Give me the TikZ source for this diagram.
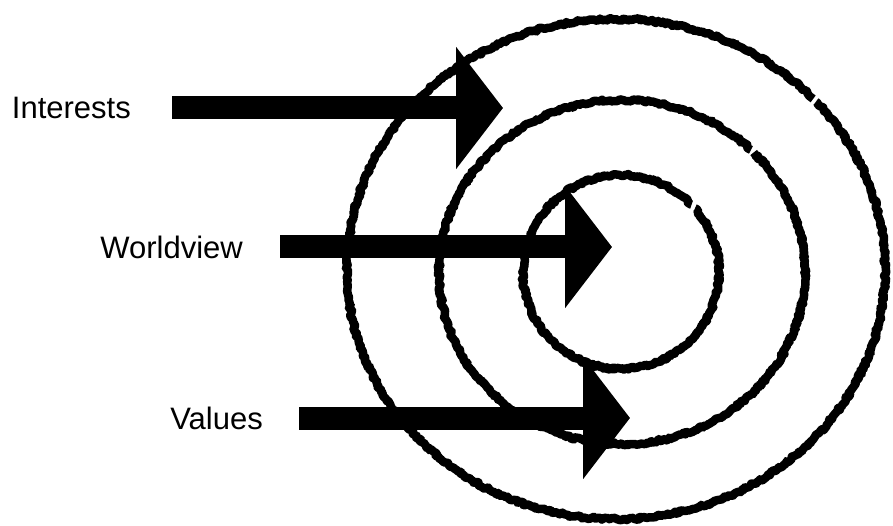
\documentclass[tikz,border=0pt]{standalone}
\usepackage{fontspec}
\setmainfont{Liberation Sans}
\usepackage{tikz}
\usetikzlibrary{arrows.meta, decorations.pathmorphing}

\begin{document}
\begin{tikzpicture}[x=1pt,y=-1pt,
		lbl/.style={inner sep=0pt, anchor=east, font=\fontsize{31}{36}\selectfont},
		bigarrow/.style={line width=23pt, -{Triangle[length=47pt,width=120pt]}},
		chalk/.style={line width=8.5pt, line join=round, decorate,
			decoration={random steps, segment length=2pt, amplitude=1.4pt}}]
				\pgfmathsetseed{7}
				\useasboundingbox (0,0) rectangle (893,526);
				\draw[chalk] (616,269) ++(-42:269 and 250) arc[start angle=-42, end angle=317, x radius=269, y radius=250];
				\draw[chalk] (622,272) ++(-44:183 and 172) arc[start angle=-44, end angle=314.7, x radius=183, y radius=172];
				\draw[chalk] (621,272) ++(-41:98 and 97) arc[start angle=-41, end angle=316, x radius=98, y radius=97];
				\coordinate (interestsTip) at (503,108);
				\coordinate (worldviewTip) at (612,247);
				\coordinate (valuesTip) at (630,418);
				\node[lbl] (interests) at (131,108) {Interests};
				\node[lbl] (worldview) at (243,247) {Worldview};
				\node[lbl] (values) at (263,418) {Values};
				\draw[bigarrow] ([xshift=41pt]interests.east) -- (interestsTip);
				\draw[bigarrow] ([xshift=37pt]worldview.east) -- (worldviewTip);
				\draw[bigarrow] ([xshift=36pt]values.east) -- (valuesTip);
			\end{tikzpicture}
\end{document}
